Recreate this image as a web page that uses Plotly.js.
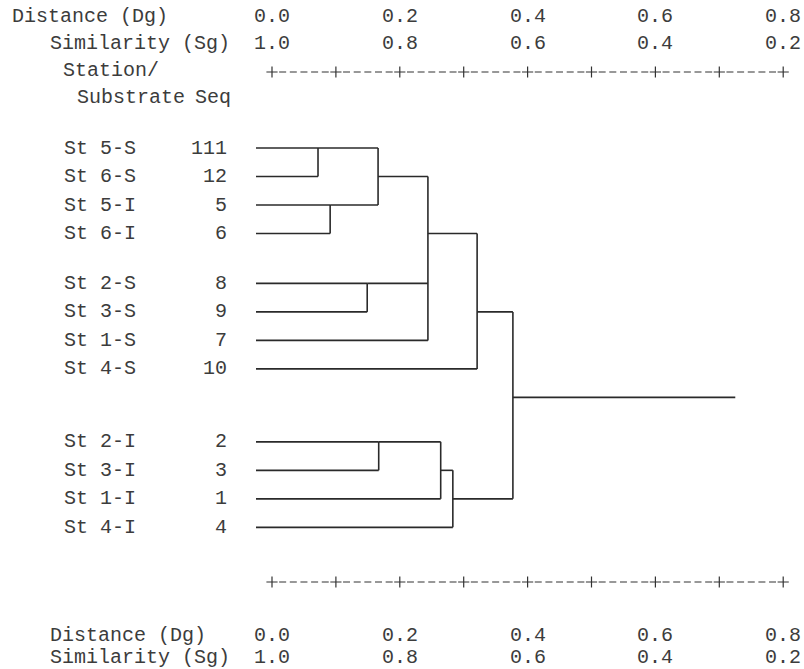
<!DOCTYPE html>
<html>
<head>
<meta charset="utf-8">
<script src="https://cdn.plot.ly/plotly-3.0.1.min.js"></script>
<style>html,body{margin:0;padding:0;background:#fff;}#chart{width:804px;height:669px;}</style>
</head>
<body>
<div id="chart"></div>
<script>
// ---- data ----
const leafLabels = ['St 5-S','St 6-S','St 5-I','St 6-I','St 2-S','St 3-S','St 1-S','St 4-S','St 2-I','St 3-I','St 1-I','St 4-I'];
const leafSeq = ['111','12','5','6','8','9','7','10','2','3','1','4'];
// merges: children (leaf index or 'mN'), distance level
const mergeChildren = [[0,1],[2,3],['m0','m1'],[4,5],['m2','m3',6],['m4',7],[8,9],['m6',10],['m7',11],['m5','m8']];
const mergeHeights = [0.072,0.091,0.166,0.149,0.244,0.321,0.167,0.264,0.283,0.377];
const rootTail = 0.725;
const distTicks = [0.0,0.2,0.4,0.6,0.8];
const distTickText = ['0.0','0.2','0.4','0.6','0.8'];
const simTickText = ['1.0','0.8','0.6','0.4','0.2'];
const rulerTicks = [0,0.1,0.2,0.3,0.4,0.5,0.6,0.7,0.8];

// ---- layout helpers ----
const W = 804, H = 669;
const PXU = 639, X0 = 272;          // pixels per distance unit, pixel of distance 0
const PITCH = 28.5, Y0 = 148;       // pixels per row, pixel of first row
const leafStart = -16 / PXU;
const rowOf = i => i + (i >= 8 ? 1 : 0);
const vy = r => r + (r >= 4 ? 0.75 : 0) + (r >= 9 ? 0.56 : 0);
const pyToY = py => (py - Y0) / PITCH;
const FONT = {family: 'Liberation Mono, Courier New, monospace', size: 20, color: '#3c3c3c'};

// ---- build tree segments ----
const nodes = {};
leafLabels.forEach((l, i) => { nodes[i] = {x: leafStart, row: rowOf(i)}; });
const lx = [], ly = [];
function seg(x1, y1, x2, y2) { lx.push(x1, x2, null); ly.push(y1, y2, null); }
let lastId = null;
mergeChildren.forEach((ch, k) => {
  const h = mergeHeights[k];
  const rows = ch.map(c => nodes[c].row);
  ch.forEach(c => seg(nodes[c].x, vy(nodes[c].row), h, vy(nodes[c].row)));
  const rmin = Math.min(...rows), rmax = Math.max(...rows);
  seg(h, vy(rmin), h, vy(rmax));
  nodes['m' + k] = {x: h, row: Math.floor((rmin + rmax) / 2)};
  lastId = 'm' + k;
});
seg(nodes[lastId].x, vy(nodes[lastId].row), rootTail, vy(nodes[lastId].row));

const traces = [{
  x: lx, y: ly, mode: 'lines', type: 'scatter', hoverinfo: 'skip',
  line: {color: '#2a2a2a', width: 1.6}, showlegend: false
}];

// rulers (top and bottom)
[pyToY(72), pyToY(582)].forEach(yy => {
  traces.push({x: rulerTicks, y: rulerTicks.map(() => yy), mode: 'markers', type: 'scatter',
    hoverinfo: 'skip', showlegend: false,
    marker: {symbol: 'cross-thin', size: 8, line: {color: '#333', width: 1.2}}});
  const dx = [], dy = [];
  for (let i = 0; i < rulerTicks.length - 1; i++) {
    const a = rulerTicks[i], b = rulerTicks[i + 1];
    for (let k = 1; k <= 5; k++) { dx.push(a + (b - a) * k / 6); dy.push(yy); }
  }
  traces.push({x: dx, y: dy, mode: 'markers', type: 'scatter', hoverinfo: 'skip', showlegend: false,
    marker: {symbol: 'line-ew', size: 5, line: {color: '#444', width: 1.1}}});
});

// ---- annotations ----
const ann = [];
function txt(t, xpx, ypx, anchor) {
  ann.push({text: t, xref: 'paper', yref: 'y', x: xpx / W, y: pyToY(ypx), xanchor: anchor || 'left',
    yanchor: 'middle', showarrow: false, font: FONT});
}
function tickRow(labels, ypx) {
  labels.forEach((t, i) => ann.push({text: t, xref: 'x', yref: 'y', x: distTicks[i], y: pyToY(ypx),
    xanchor: 'center', yanchor: 'middle', showarrow: false, font: FONT}));
}
txt('Distance (Dg)', 10, 16);
txt('Similarity (Sg)', 48, 43);
txt('Station/', 61, 70);
txt('Substrate', 75, 97);
txt('Seq', 193, 97);
tickRow(distTickText, 16);
tickRow(simTickText, 43);
txt('Distance (Dg)', 48, 635);
txt('Similarity (Sg)', 48, 657);
tickRow(distTickText, 635);
tickRow(simTickText, 657);
leafLabels.forEach((l, i) => {
  const yv = vy(rowOf(i));
  ann.push({text: l, xref: 'paper', yref: 'y', x: 62 / W, y: yv, xanchor: 'left', yanchor: 'middle', showarrow: false, font: FONT});
  ann.push({text: leafSeq[i], xref: 'paper', yref: 'y', x: 229 / W, y: yv, xanchor: 'right', yanchor: 'middle', showarrow: false, font: FONT});
});

const layout = {
  width: W, height: H, margin: {l: 0, r: 0, t: 0, b: 0},
  paper_bgcolor: '#fff', plot_bgcolor: '#fff',
  xaxis: {range: [-X0 / PXU, (W - X0) / PXU], visible: false, fixedrange: true},
  yaxis: {range: [(H - Y0) / PITCH, -Y0 / PITCH], visible: false, fixedrange: true},
  annotations: ann, showlegend: false
};
Plotly.newPlot('chart', traces, layout, {displayModeBar: false, staticPlot: true});
</script>
</body>
</html>
